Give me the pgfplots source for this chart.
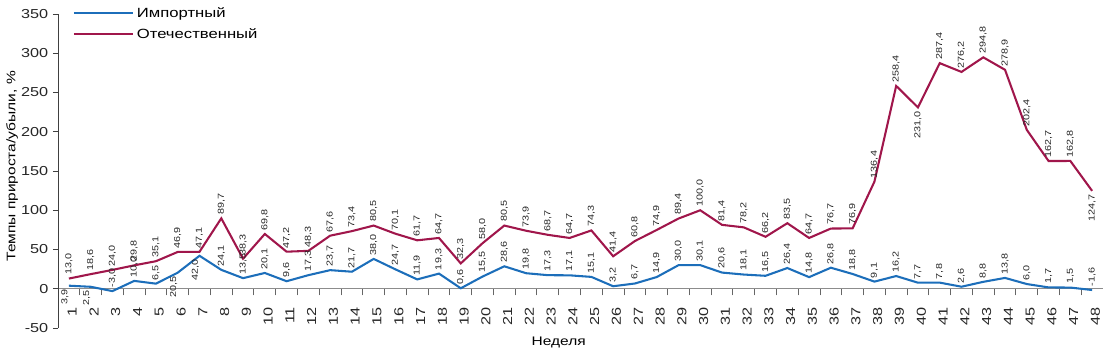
\documentclass[border=0pt]{standalone}
\usepackage{pgfplots}
\pgfplotsset{compat=1.18}
\usepackage{pgfplotstable}
\usepackage{fontspec}
\setmainfont{Liberation Sans}[FakeStretch=1.25]
\definecolor{impblue}{RGB}{28,110,186}
\definecolor{domred}{RGB}{160,22,75}
\pgfplotstableread{
w imp dom
1 3.9 13.0
2 2.5 18.6
3 -3.0 24.0
4 10.0 29.8
5 6.5 35.1
6 20.5 46.9
7 42.0 47.1
8 24.1 89.7
9 13.5 38.3
10 20.1 69.8
11 9.6 47.2
12 17.3 48.3
13 23.7 67.6
14 21.7 73.4
15 38.0 80.5
16 24.7 70.1
17 11.9 61.7
18 19.3 64.7
19 0.6 32.3
20 15.5 58.0
21 28.6 80.5
22 19.8 73.9
23 17.3 68.7
24 17.1 64.7
25 15.1 74.3
26 3.2 41.4
27 6.7 60.8
28 14.9 74.9
29 30.0 89.4
30 30.1 100.0
31 20.6 81.4
32 18.1 78.2
33 16.5 66.2
34 26.4 83.5
35 14.8 64.7
36 26.8 76.7
37 18.8 76.9
38 9.1 136.4
39 16.2 258.4
40 7.7 231.0
41 7.8 287.4
42 2.6 276.2
43 8.8 294.8
44 13.8 278.9
45 6.0 202.4
46 1.7 162.7
47 1.5 162.8
48 -1.6 124.7
}\data
\pgfplotsset{
  lbl/.style 2 args={draw=none, mark=none,
    nodes near coords={\pgfmathprintnumber[fixed,fixed zerofill,precision=1,use comma,assume math mode=true]{\pgfplotspointmeta}},
    every node near coord/.append style={font=\fontsize{6.5}{7}\selectfont, text=black!85, xshift=#2, rotate=90, inner sep=2.5pt, anchor=#1}},
}
\begin{document}
\begin{tikzpicture}
\begin{axis}[
  scale only axis, width=783.75pt, height=235.5pt,
  xmin=0.5, xmax=48.5, ymin=-50, ymax=350,
  axis x line=middle, axis y line=left,
  hide obscured x ticks=false, hide obscured y ticks=false,
  x axis line style={-, draw=black!45, line width=0.8pt},
  y axis line style={-, draw=black!75, line width=0.7pt},
  xtick={1,...,48},
  minor xtick={1.5,2.5,...,47.5},
  ytick={-50,0,...,350},
  tick align=outside,
  major tick length=3.75pt, minor tick length=5pt,
  major x tick style={draw=none},
  minor x tick style={draw=black!60, line width=0.7pt},
  y tick style={draw=black!75, line width=0.7pt},
  /pgf/number format/assume math mode=true,
  tick label style={font=\fontsize{9.75}{11}\selectfont, text=black!85},
  xticklabel style={xshift=2.5pt, yshift=-6.5pt, rotate=90, anchor=east},
  ylabel={Темпы прироста/убыли, \%},
  ylabel style={font=\fontsize{9.3}{11}\selectfont, at={(ticklabel cs:0.515,-4.5pt)}},
  xlabel={Неделя},
  xlabel style={font=\fontsize{9.3}{11}\selectfont, at={(axis cs:23.5,-50)}, anchor=north, yshift=-3pt},
  legend style={draw=none, fill=none, at={(rel axis cs:0,1)}, anchor=north west,
    xshift=8pt, yshift=9.3pt, font=\fontsize{10}{12}\selectfont, row sep=3pt,
    legend cell align=left},
  legend image post style={xscale=2.6},
]
\addplot[impblue, line width=1.55pt, mark=none] table[x=w, y=imp] {\data};
\addlegendentry{Импортный}
\addplot[domred, line width=1.55pt, mark=none] table[x=w, y=dom] {\data};
\addlegendentry{Отечественный}
\addplot[forget plot, lbl={west}{0pt}, skip coords between index={0}{2}, skip coords between index={5}{7}] table[x=w, y=imp] {\data};
\addplot[forget plot, lbl={east}{-3pt}, skip coords between index={2}{5}, skip coords between index={7}{48}] table[x=w, y=imp] {\data};
\addplot[forget plot, lbl={west}{0pt}, skip coords between index={39}{40}, skip coords between index={47}{48}] table[x=w, y=dom] {\data};
\addplot[forget plot, lbl={east}{0pt}, skip coords between index={0}{39}, skip coords between index={40}{47}] table[x=w, y=dom] {\data};
\end{axis}
\pgfresetboundingbox
\path[use as bounding box] ([xshift=-43.5pt,yshift=-19.5pt]current axis.south west) rectangle ([xshift=0.75pt,yshift=10.5pt]current axis.north east);
\end{tikzpicture}
\end{document}
